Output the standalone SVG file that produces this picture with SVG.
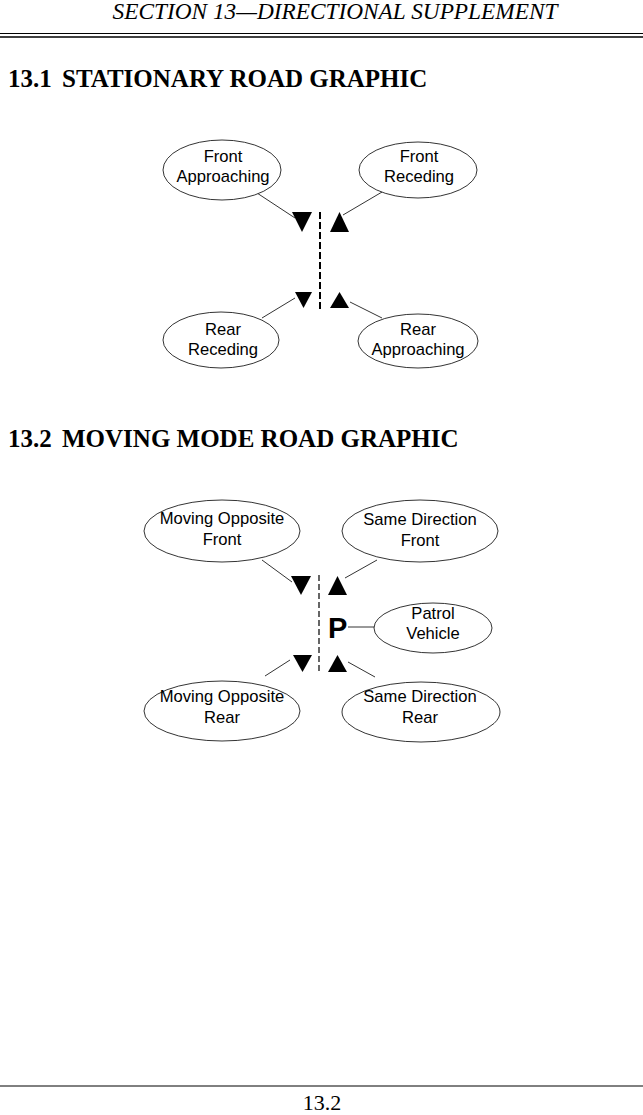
<svg xmlns="http://www.w3.org/2000/svg" width="643" height="1115" viewBox="0 0 643 1115">
<style>
.hdr{font-family:"Liberation Serif",serif;font-style:italic;font-size:23.3px;fill:#000}
.ttl{font-family:"Liberation Serif",serif;font-weight:bold;font-size:25px;fill:#000}
.ftr{font-family:"Liberation Serif",serif;font-size:22px;fill:#000}
.lbl{font-family:"Liberation Sans",Arial,sans-serif;font-size:16.6px;fill:#000;text-anchor:middle}
.ell{fill:#fff;stroke:#000;stroke-width:0.8}
.con{stroke:#000;stroke-width:0.8;fill:none}
.tri{fill:#000}
.road1{stroke:#000;stroke-width:2;stroke-dasharray:7,3}
.road2{stroke:#000;stroke-width:1.2;stroke-dasharray:6,3}
.pv{font-family:"Liberation Sans",Arial,sans-serif;font-weight:bold;font-size:29px;fill:#000}
</style>
<rect width="643" height="1115" fill="#fff"/>
<text class="hdr" x="335" y="19" text-anchor="middle">SECTION 13—DIRECTIONAL SUPPLEMENT</text>
<line x1="0" y1="33.5" x2="643" y2="33.5" stroke="#000" stroke-width="1"/>
<line x1="0" y1="37" x2="643" y2="37" stroke="#000" stroke-width="1.6"/>
<text class="ttl" x="8" y="87">13.1<tspan x="62">STATIONARY ROAD GRAPHIC</tspan></text>
<text class="ttl" x="8" y="447">13.2<tspan x="62">MOVING MODE ROAD GRAPHIC</tspan></text>
<line x1="0" y1="1086" x2="643" y2="1086" stroke="#000" stroke-width="1"/>
<text class="ftr" x="322" y="1110" text-anchor="middle">13.2</text>

<g id="connectors">
<line class="con" x1="257" y1="193" x2="295" y2="218"/>
<line class="con" x1="382" y1="192" x2="343" y2="215"/>
<line class="con" x1="262" y1="318" x2="295" y2="298"/>
<line class="con" x1="350" y1="302" x2="382" y2="318"/>
<line class="con" x1="262" y1="560" x2="292" y2="582"/>
<line class="con" x1="377" y1="560" x2="345" y2="578"/>
<line class="con" x1="265" y1="676" x2="290" y2="660"/>
<line class="con" x1="348" y1="662" x2="375" y2="677"/>
<line class="con" x1="348" y1="627" x2="375" y2="627"/>
</g>

<g id="road1">
<line class="road1" x1="320" y1="212" x2="320" y2="310"/>
<polygon class="tri" points="292,212 312,212 302,232"/>
<polygon class="tri" points="330,232 349,232 339.5,212"/>
<polygon class="tri" points="295,292 312,292 303.5,308"/>
<polygon class="tri" points="330,308 349,308 339.5,292"/>
</g>

<g id="front-approaching">
<ellipse class="ell" cx="222" cy="170" rx="59" ry="30"/>
<text class="lbl" x="223" y="162">Front</text>
<text class="lbl" x="223" y="182">Approaching</text>
</g>
<g id="front-receding">
<ellipse class="ell" cx="418" cy="170" rx="59" ry="28"/>
<text class="lbl" x="419" y="162">Front</text>
<text class="lbl" x="419" y="182">Receding</text>
</g>
<g id="rear-receding">
<ellipse class="ell" cx="221" cy="340" rx="58" ry="28"/>
<text class="lbl" x="223" y="335">Rear</text>
<text class="lbl" x="223" y="355">Receding</text>
</g>
<g id="rear-approaching">
<ellipse class="ell" cx="418" cy="341" rx="60" ry="27"/>
<text class="lbl" x="418" y="335">Rear</text>
<text class="lbl" x="418" y="355">Approaching</text>
</g>

<g id="road2">
<line class="road2" x1="319" y1="575" x2="319" y2="673"/>
<polygon class="tri" points="291,576 311,576 301,595"/>
<polygon class="tri" points="328,595 347,595 337.5,576"/>
<polygon class="tri" points="293,655 312,655 302.5,672"/>
<polygon class="tri" points="328,672 347,672 337.5,655"/>
<text class="pv" x="328" y="638">P</text>
</g>

<g id="moving-opposite-front">
<ellipse class="ell" cx="222" cy="531" rx="78" ry="31"/>
<text class="lbl" x="222" y="524">Moving Opposite</text>
<text class="lbl" x="222" y="545">Front</text>
</g>
<g id="same-direction-front">
<ellipse class="ell" cx="420" cy="531" rx="78" ry="31"/>
<text class="lbl" x="420" y="525">Same Direction</text>
<text class="lbl" x="420" y="546">Front</text>
</g>
<g id="patrol-vehicle">
<ellipse class="ell" cx="433" cy="628" rx="59" ry="25"/>
<text class="lbl" x="433" y="619">Patrol</text>
<text class="lbl" x="433" y="639">Vehicle</text>
</g>
<g id="moving-opposite-rear">
<ellipse class="ell" cx="222" cy="711" rx="78" ry="30"/>
<text class="lbl" x="222" y="702">Moving Opposite</text>
<text class="lbl" x="222" y="723">Rear</text>
</g>
<g id="same-direction-rear">
<ellipse class="ell" cx="421" cy="712" rx="79" ry="30"/>
<text class="lbl" x="420" y="702">Same Direction</text>
<text class="lbl" x="420" y="723">Rear</text>
</g>
</svg>
